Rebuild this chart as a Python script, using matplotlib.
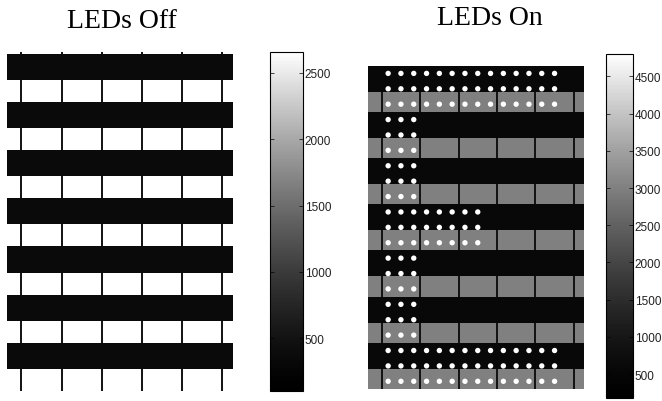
import numpy as np
import matplotlib.pyplot as plt
from matplotlib.colors import ListedColormap

plt.rcParams['font.family'] = ['Liberation Sans', 'DejaVu Sans']

# LED panel: 14 columns, 21 rows in 7 groups of 3
# (two rows sit on a dark strip, the third on a bright/grey strip)
n_groups = 7
n_cols = 14
cell_leds = 3

# lit LEDs in the "on" frame (letter E)
lit = (["11111111111111"] * 3 +
       ["11100000000000"] * 6 +
       ["11111111000000"] * 3 +
       ["11100000000000"] * 6 +
       ["11111111111111"] * 3)

# intensity levels (counts)
off_dark, off_bright = 360, 2660
on_dark, on_grey, on_led = 560, 3000, 4800
off_range = (105, 2660)
on_range = (180, 4800)
off_ticks = [500, 1000, 1500, 2000, 2500]
on_ticks = [500, 1000, 1500, 2000, 2500, 3000, 3500, 4000, 4500]

# grey map as the camera display shows it (a bit darker in the middle)
t = np.linspace(0, 1, 256) ** 1.4
grey = ListedColormap(np.column_stack([t, t, t]))

W, H = 662, 402
fig = plt.figure(figsize=(W / 100, H / 100), dpi=100)


def px_axes(x0, y0, x1, y1):
    return fig.add_axes([x0 / W, 1 - y1 / H, (x1 - x0) / W, (y1 - y0) / H])


def draw_frame(ax, dark_h, dark, bright, vmin, vmax, top=-0.5):
    edges, vals = [], []
    if top < -0.5:
        edges.append(top)
        vals.append(bright)
    for g in range(n_groups):
        edges += [3 * g - 0.5, 3 * g - 0.5 + dark_h]
        vals += [dark, bright]
    edges.append(3 * n_groups - 0.5)
    xe = [-1.55, n_cols + 1.3]
    pc = ax.pcolormesh(xe, edges, np.array(vals)[:, None], cmap=grey,
                       vmin=vmin, vmax=vmax, shading='flat',
                       edgecolors='none', antialiased=False)
    # cell separators show only on the bright strips
    xs = -0.5 + cell_leds * np.arange(6)
    for i, v in enumerate(vals):
        if v == bright:
            ax.vlines(xs, edges[i], edges[i + 1], color='#111111', lw=1.4)
    ax.set_xlim(xe)
    ax.set_ylim(edges[-1], edges[0])
    ax.axis('off')
    return pc


def style_cbar(cb):
    cb.outline.set_linewidth(0.8)
    cb.ax.tick_params(direction='in', left=True, right=True, length=3,
                      width=0.5, labelsize=8.5, pad=1.5, labelcolor='#222222')


# LEDs off
ax1 = px_axes(7.3, 53, 233, 391.7)
pc1 = draw_frame(ax1, 1.63, off_dark, off_bright, *off_range, top=-0.625)
cax1 = px_axes(270, 52.7, 302.7, 391.7)
cb1 = fig.colorbar(pc1, cax=cax1, ticks=off_ticks)
style_cbar(cb1)

# LEDs on
ax2 = px_axes(368.3, 66.7, 584, 390)
pc2 = draw_frame(ax2, 1.69, on_dark, on_grey, *on_range)
mask = np.array([[c == '1' for c in r] for r in lit])
rr, cc = np.nonzero(mask)
ax2.scatter(cc, rr, s=15, c=grey(1.0), edgecolors='none', zorder=3)
cax2 = px_axes(605.7, 55, 632.7, 399)
cb2 = fig.colorbar(pc2, cax=cax2, ticks=on_ticks)
style_cbar(cb2)

fig.text(121.7 / W, 1 - 27.7 / H, 'LEDs Off', ha='center', va='baseline',
         fontsize=20, family='Liberation Serif')
fig.text(490 / W, 1 - 25 / H, 'LEDs On', ha='center', va='baseline',
         fontsize=20, family='Liberation Serif')

fig.savefig('out.png', dpi=100)
